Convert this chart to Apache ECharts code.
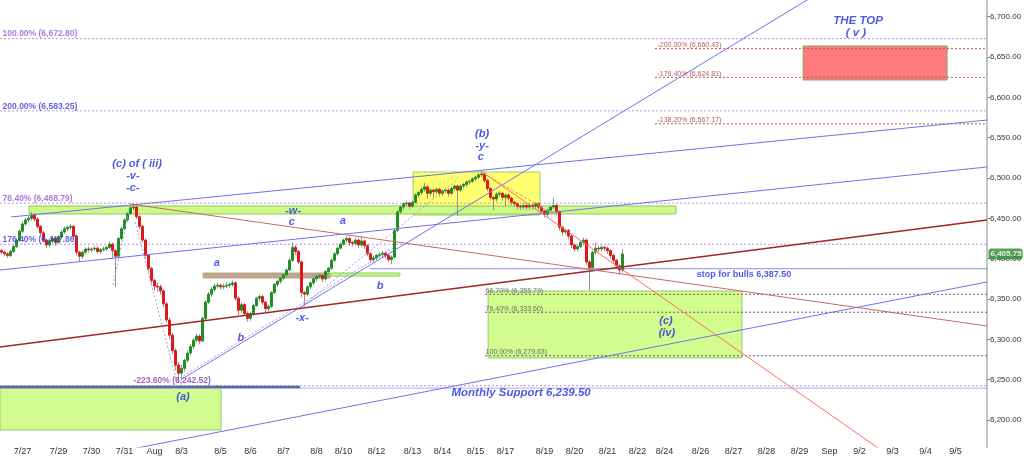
<!DOCTYPE html>
<html><head><meta charset="utf-8">
<script src="https://cdn.jsdelivr.net/npm/echarts@6/dist/echarts.min.js"></script>
<style>html,body{margin:0;padding:0;background:#fff}#c{width:1024px;height:457px}</style>
</head><body><div id="c"></div>
<script>
// ---------- price data (one candle per slot) ----------
const opens = [6410,6408,6406,6404,6409,6415,6423,6434,6443,6448,
 6450,6454,6449,6440,6432,6423,6417,6422,6425,6420,
 6427,6433,6437,6439,6440,6428,6408,6403,6408,6412,
 6411,6412,6413,6409,6411,6412,6414,6418,6410,6403,
 6425,6437,6448,6456,6463,6464,6452,6440,6423,6404,
 6388,6373,6366,6365,6360,6344,6324,6305,6286,6268,
 6258,6264,6274,6283,6291,6299,6304,6298,6326,6346,
 6356,6362,6366,6367,6365,6366,6367,6368,6370,6351,
 6336,6343,6332,6326,6332,6342,6351,6353,6346,6338,
 6341,6358,6368,6372,6376,6380,6386,6398,6414,6409,
 6396,6358,6356,6365,6370,6375,6378,6379,6375,6384,
 6388,6398,6406,6413,6418,6423,6425,6420,6419,6423,
 6417,6422,6416,6406,6399,6401,6404,6405,6407,6404,
 6399,6402,6435,6458,6464,6468,6469,6465,6470,6479,
 6482,6486,6489,6481,6485,6483,6486,6481,6484,6485,
 6481,6487,6490,6485,6490,6492,6495,6496,6499,6501,
 6504,6505,6497,6487,6476,6474,6480,6481,6476,6479,
 6475,6470,6468,6465,6464,6466,6464,6466,6465,6468,
 6464,6459,6455,6460,6464,6466,6458,6439,6433,6435,
 6428,6417,6412,6415,6420,6423,6396,6389,6408,6413,
 6412,6414,6413,6410,6404,6398,6391,6386];
const closes = [6408,6406,6404,6409,6415,6423,6434,6443,6448,6450,
 6454,6449,6440,6432,6423,6417,6422,6425,6420,6427,
 6433,6437,6439,6440,6428,6408,6403,6408,6412,6411,
 6412,6413,6409,6411,6412,6414,6418,6410,6403,6425,
 6437,6448,6456,6463,6464,6452,6440,6423,6404,6388,
 6373,6366,6365,6360,6344,6324,6305,6286,6268,6258,
 6264,6274,6283,6291,6299,6304,6298,6326,6346,6356,
 6362,6366,6367,6365,6366,6367,6368,6370,6351,6336,
 6343,6332,6326,6332,6342,6351,6353,6346,6338,6341,
 6358,6368,6372,6376,6380,6386,6398,6414,6409,6396,
 6358,6356,6365,6370,6375,6378,6379,6375,6384,6388,
 6398,6406,6413,6418,6423,6425,6420,6419,6423,6417,
 6422,6416,6406,6399,6401,6404,6405,6407,6404,6399,
 6402,6435,6458,6464,6468,6469,6465,6470,6479,6482,
 6486,6489,6481,6485,6483,6486,6481,6484,6485,6481,
 6487,6490,6485,6490,6492,6495,6496,6499,6501,6504,
 6505,6497,6487,6476,6474,6480,6481,6476,6479,6475,
 6470,6468,6465,6464,6466,6464,6466,6465,6468,6464,
 6459,6455,6460,6464,6466,6458,6439,6433,6435,6428,
 6417,6412,6415,6420,6423,6396,6389,6408,6413,6412,
 6414,6413,6410,6404,6398,6391,6386,6405.75];
const lows = [6405,6403,6401,6402,6407,6413,6421,6432,6441,6445,
 6447,6446,6437,6429,6420,6413,6414,6419,6416,6418,
 6425,6431,6434,6436,6425,6404,6396,6400,6405,6408,
 6408,6409,6406,6406,6409,6410,6412,6401,6365,6400,
 6423,6435,6446,6454,6460,6449,6437,6420,6400,6384,
 6369,6360,6359,6355,6340,6320,6300,6282,6262,6246,
 6249,6260,6271,6280,6288,6296,6294,6296,6324,6344,
 6353,6359,6363,6362,6362,6363,6364,6365,6348,6330,
 6333,6329,6322,6323,6330,6340,6348,6343,6334,6335,
 6339,6356,6365,6369,6373,6378,6384,6396,6405,6393,
 6352,6341,6353,6362,6367,6372,6375,6371,6373,6381,
 6386,6396,6404,6411,6416,6420,6416,6415,6416,6413,
 6414,6412,6403,6395,6396,6398,6401,6402,6400,6396,
 6393,6400,6433,6456,6461,6465,6462,6463,6468,6476,
 6479,6483,6474,6478,6475,6480,6477,6478,6481,6477,
 6479,6484,6453,6483,6487,6489,6492,6494,6496,6499,
 6501,6494,6484,6472,6460,6471,6477,6472,6465,6472,
 6466,6464,6461,6460,6461,6460,6461,6461,6462,6460,
 6456,6451,6452,6457,6461,6454,6435,6428,6430,6424,
 6413,6409,6409,6413,6417,6392,6361,6386,6405,6408,
 6409,6409,6406,6400,6394,6387,6380,6383];
const highs = [6412,6410,6408,6411,6417,6425,6436,6446,6451,6453,
 6458,6456,6451,6442,6434,6425,6424,6428,6427,6429,
 6435,6440,6441,6443,6442,6430,6410,6410,6414,6415,
 6414,6416,6415,6413,6415,6416,6421,6420,6412,6427,
 6439,6450,6458,6466,6469,6466,6454,6442,6425,6406,
 6390,6375,6370,6368,6362,6346,6327,6308,6289,6272,
 6268,6276,6286,6294,6302,6307,6306,6328,6349,6359,
 6365,6369,6370,6369,6369,6371,6370,6373,6372,6353,
 6346,6345,6335,6334,6344,6353,6356,6355,6348,6343,
 6360,6370,6374,6378,6382,6388,6401,6420,6417,6411,
 6398,6360,6367,6372,6377,6380,6382,6381,6386,6390,
 6400,6408,6415,6420,6425,6428,6427,6422,6426,6425,
 6428,6424,6418,6408,6404,6406,6408,6410,6409,6406,
 6404,6437,6460,6466,6470,6472,6471,6472,6481,6484,
 6488,6494,6491,6487,6487,6488,6488,6486,6487,6487,
 6489,6492,6492,6492,6494,6497,6498,6501,6503,6506,
 6509,6507,6499,6489,6478,6482,6484,6483,6481,6481,
 6477,6472,6470,6467,6469,6468,6469,6468,6470,6470,
 6466,6461,6462,6466,6475,6468,6460,6441,6437,6437,
 6430,6419,6417,6422,6426,6425,6398,6410,6420,6416,
 6417,6416,6415,6412,6406,6400,6393,6412];
const lastPrice = 6405.75;
const lastPriceText = '6,405.75';

// ---------- axes ----------
const slotCount = 329;
const dayLabels = ['7/27','7/29','7/30','7/31','Aug','8/3','8/5','8/6','8/7','8/8','8/10','8/12','8/13','8/14','8/15','8/17','8/19','8/20','8/21','8/22','8/24','8/26','8/27','8/28','8/29','Sep','9/2','9/3','9/4','9/5'];
const dayLabelSlots = [7,19,30,41,51,60,73,83,94,105,114,125,137,147,158,168,181,191,202,212,221,233,244,255,266,276,286,297,308,318];
const yTicks = [6200,6250,6300,6350,6400,6450,6500,6550,6600,6650,6700];
const yMin = 6166.5, yMax = 6720.7;

// ---------- levels ----------
const purpleLevels = [6672.80, 6583.25, 6468.79, 6417.86, 6242.52];
const redLevels = [6660.43, 6624.81, 6567.17];
const redLevelsFrom = 217.8;
const grayLevels = [6355.79, 6333.60, 6279.63];
const grayLevelsFrom = 161.2;
const stopLevel = 6387.50, stopFrom = 122.8;
const monthlySupport = 6239.50;

// ---------- trend lines [slot, price] ----------
const blueTrends = [
  [[3.2,6451.7],[328.5,6571.9]],
  [[-0.5,6385.9],[328.5,6513.7]],
  [[36,6158.6],[328.5,6371.1]],
  [[60.2,6250.8],[280,6746.6]]
];
const brownTrend = [[-0.5,6290.5],[328.5,6448.0]];
const thinRedTrend = [[42.8,6467.8],[328.5,6316.5]];
const salmonTrend = [[159.8,6508.7],[295,6158.0]];
const salmonDashed = [[159.8,6507.5],[184.5,6454.1]];
const pivotDotted = [
  [[59.5,6252.0],[130.5,6413.2]],
  [[100.2,6341.3],[151.8,6497.5]],
  [[37.2,6367.4],[42.8,6466.5]],
  [[44.5,6445.5],[58.5,6247.1]]
];
const slateSegment = [[-0.5,6241.0],[99.5,6241.0]];

// ---------- zones [x1,y1,x2,y2] ----------
const zoneYellow = [137.2,6454.1,179.5,6507.5];
const zoneBand = [9.2,6455.4,224.8,6465.3];
const zoneTarget = [162.2,6276.9,246.8,6359.9];
const zoneSupport = [-0.5,6187.6,73.2,6242.1];
const zoneTop = [267.2,6621.5,315.2,6663.7];
const zoneBrown = [67.2,6376.0,109.5,6382.2];
const zoneGreenBar = [109.5,6378.5,132.8,6382.2];

// ---------- texts ----------
const waveTexts = [
  ['(c) of ( iii)',45.2,6517.4],['-v-',43.8,6502.5],['-c-',43.8,6487.6],
  ['-w-',97.2,6459.1],['c',96.8,6445.5],['a',113.8,6446.7],['a',71.8,6394.6],
  ['b',79.8,6301.6],['-x-',100.2,6326.4],['b',126.2,6366.1],['(a)',60.5,6228.5],
  ['(b)',160.2,6554.6],['-y-',160.2,6539.7],['c',159.8,6526.1],
  ['(c)',221.5,6322.7],['(iv)',221.8,6307.8]
];
const bigTexts = [['THE TOP',285.5,6694.7],['( v )',284.8,6679.8],['Monthly Support 6,239.50',173.2,6233.5]];
const stopText = [['stop for bulls 6,387.50',247.5,6380.0]];
const purpleFibTexts = [['100.00% (6,672.80)',0.2,6678.5],['76.40% (6,468.79)',0.2,6474.0]];
const blueFibTexts = [['200.00% (6,583.25)',0.2,6588.0],['176.40% (6,417.86)',0.2,6423.1]];
const lowFibText = [['-223.60% (6,242.52)',43.8,6248.3]];
const redFibTexts = [['-200.00% (6,660.43)',218.5,6665.0],['-176.40% (6,624.81)',218.5,6629.0],['-138.20% (6,567.17)',218.5,6571.9]];
const grayFibTexts = [['66.70% (6,355.79)',161.2,6359.9],['76.40% (6,333.60)',161.2,6337.6],['100.00% (6,279.63)',161.2,6284.3]];

// ---------- build ----------
const FF = '"Liberation Sans", Arial, sans-serif';
const cats = new Array(slotCount).fill('');
dayLabelSlots.forEach((s,i)=>{cats[s]=dayLabels[i];});
const ohlc = closes.map((c,i)=>[opens[i],c,lows[i],highs[i]]);
const bodies = closes.map((c,i)=>[opens[i],c,Math.min(opens[i],c),Math.max(opens[i],c)]);

function seg(points, color, width, type, z){
  return {type:'line', xAxisIndex:1, yAxisIndex:0, data:points, symbol:'none', silent:true,
    animation:false, clip:true, z:z||4, lineStyle:{color:color, width:width, type:type||'solid'}};
}
function hline(v, from, to, color, width, type, z){ return seg([[from,v],[to,v]], color, width, type, z); }
function texts(items, style, pos, clip){
  return {type:'scatter', xAxisIndex:1, yAxisIndex:0, symbolSize:1, silent:true, z:12, clip:clip!==false,
    itemStyle:{color:'rgba(0,0,0,0)'},
    data: items.map(t=>({name:t[0], value:[t[1],t[2]]})),
    label:Object.assign({show:true, position:pos||'inside', distance:0, fontFamily:FF, formatter:p=>p.name}, style)};
}
function zone(r, fill, border){
  return [{coord:[r[0],r[1]], itemStyle:{color:fill, borderColor:border, borderWidth:1}},{coord:[r[2],r[3]]}];
}

const series = [];
series.push({type:'line', xAxisIndex:1, yAxisIndex:0, data:[], silent:true, z:1,
  markArea:{silent:true, data:[
    zone(zoneSupport,'#d2fc8e','#9acb6a'),
    zone(zoneTarget,'#d2fc8e','#9acb6a'),
    zone(zoneYellow,'#ffff70','#9acb6a'),
    zone(zoneBand,'#ccfa86','#8fc85a'),
    zone(zoneTop,'#ff7a7a','#86aa62'),
    zone(zoneBrown,'#c9a090','#9fb37e'),
    zone(zoneGreenBar,'#ccfa86','#8fc85a')
  ]}});
purpleLevels.forEach(v=>series.push(hline(v,-0.5,328.5,'#b58fe8',1,[2,2],2)));
series.push(hline(monthlySupport,-0.5,328.5,'#a8a8f0',1,'solid',2));
series.push(seg(slateSegment,'#5a6aa8',2.5,'solid',3));
redLevels.forEach(v=>series.push(hline(v,redLevelsFrom,328.5,'#c85050',1,[2,2],2)));
grayLevels.forEach(v=>series.push(hline(v,grayLevelsFrom,328.5,'#606070',1,[2,2],2)));
series.push(hline(stopLevel,stopFrom,328.5,'#8c8cf0',1,'solid',2));
blueTrends.forEach(p=>series.push(seg(p,'#7272ee',1,'solid',6)));
series.push(seg(brownTrend,'#a32626',1.5,'solid',6));
series.push(seg(thinRedTrend,'#c46a6a',1,'solid',6));
series.push(seg(salmonTrend,'#ff6a5a',1,'solid',6));
series.push(seg(salmonDashed,'#f09070',1,[3,2],6));
pivotDotted.forEach(p=>series.push(seg(p,'#a89ae0',1,[2,2],6)));

series.push({type:'candlestick', xAxisIndex:0, yAxisIndex:0, data:ohlc, barWidth:1, silent:true, z:4,
  itemStyle:{color:'#939393', color0:'#939393', borderColor:'#939393', borderColor0:'#939393', borderWidth:1}});
series.push({type:'candlestick', xAxisIndex:0, yAxisIndex:0, data:bodies, barWidth:2, silent:true, z:5,
  itemStyle:{color:'#1f9023', color0:'#e01818', borderColor:'#1f9023', borderColor0:'#e01818', borderWidth:1}});

const blue = '#2030e0';
series.push(texts(waveTexts,{color:blue, fontSize:11, fontWeight:'bold', fontStyle:'italic'}));
series.push(texts(bigTexts,{color:blue, fontSize:11.5, fontWeight:'bold', fontStyle:'italic'}));
series.push(texts(stopText,{color:blue, fontSize:9, fontWeight:'bold'}));
series.push(texts(purpleFibTexts,{color:'#9a55e0', fontSize:8.5, fontWeight:'bold'},'right'));
series.push(texts(blueFibTexts,{color:'#3a3ad4', fontSize:8.5, fontWeight:'bold'},'right'));
series.push(texts(lowFibText,{color:'#8a3ab4', fontSize:8.5, fontWeight:'bold'},'right'));
series.push(texts(redFibTexts,{color:'#a83030', fontSize:7},'right'));
series.push(texts(grayFibTexts,{color:'#4a4a6a', fontSize:7},'right'));
// last-price tag on the price axis
series.push(texts([[lastPriceText,328.5,lastPrice]],{color:'#fff', fontSize:8, fontWeight:'bold',
  backgroundColor:'#2a8a2a', borderRadius:3, padding:[2,1,1,2], distance:1},'right',false));

const chart = echarts.init(document.getElementById('c'), null, {renderer:'canvas'});
chart.setOption({
  animation:false,
  backgroundColor:'#ffffff',
  grid:{left:0, right:37, top:0, bottom:10, containLabel:false, outerBoundsMode:'none'},
  xAxis:[
    {type:'category', data:cats, boundaryGap:true,
      axisLine:{show:false}, axisTick:{show:false}, splitLine:{show:false},
      axisLabel:{interval:0, fontSize:9, color:'#333', fontFamily:FF, margin:0}},
    {type:'value', min:-0.5, max:328.5, show:false, axisLine:{onZero:false}}
  ],
  yAxis:[{type:'value', position:'right', min:yMin, max:yMax, scale:true,
    axisLine:{show:true, onZero:false, lineStyle:{color:'#c4c4c4', width:2}},
    axisTick:{show:true, length:3, customValues:yTicks, lineStyle:{color:'#888'}},
    splitLine:{show:false},
    axisLabel:{customValues:yTicks, fontSize:8, color:'#333', fontFamily:FF, margin:3,
      formatter:v=>v.toLocaleString('en-US',{minimumFractionDigits:2, maximumFractionDigits:2})}}],
  series:series
});
</script></body></html>
